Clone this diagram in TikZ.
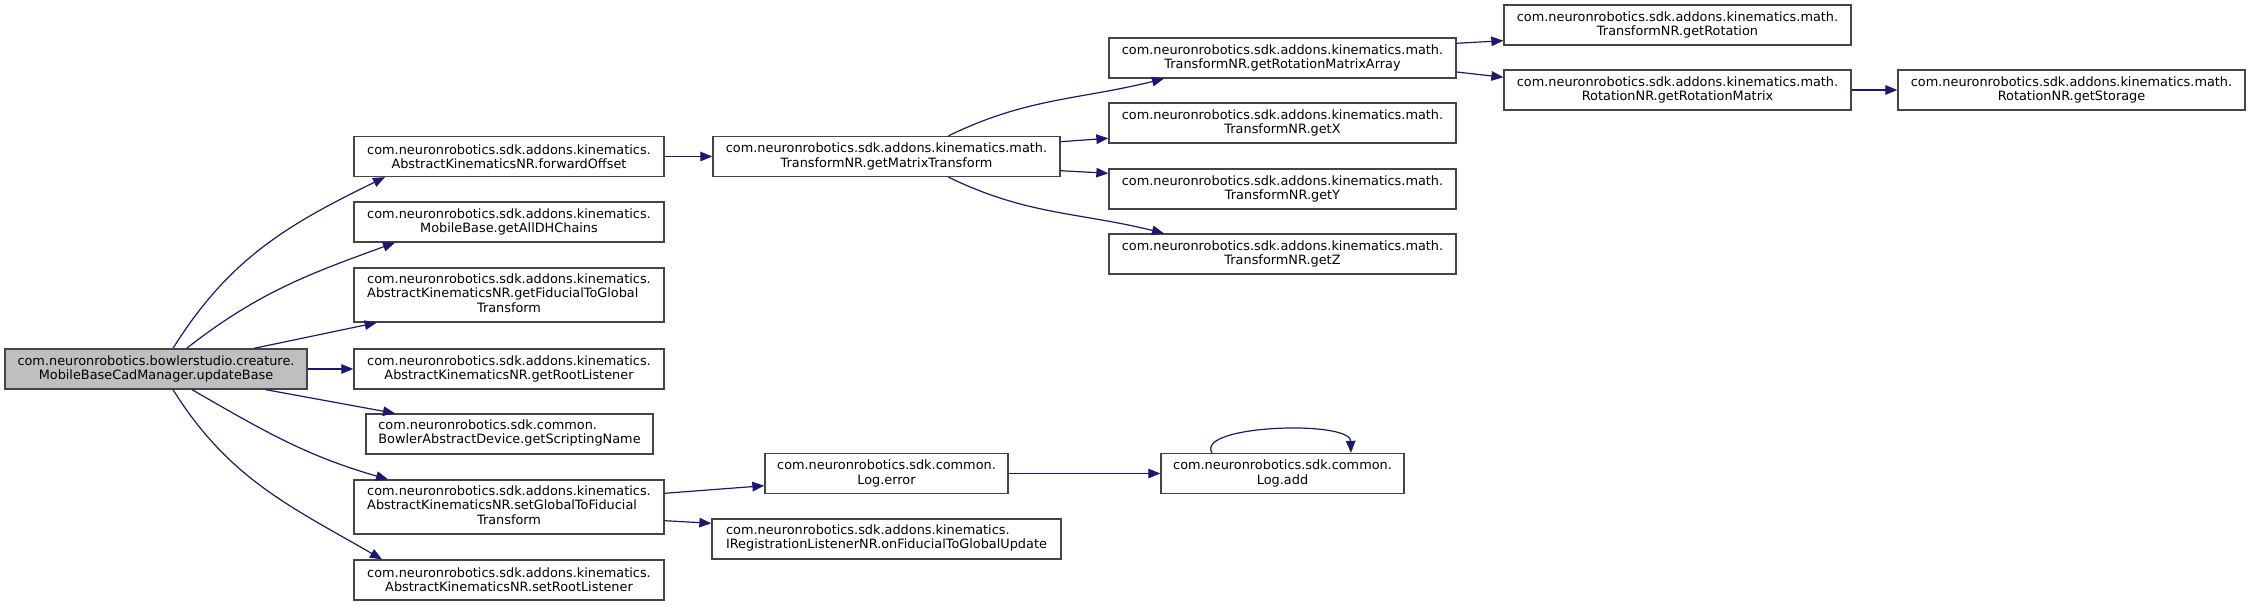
\documentclass[tikz,border=0pt]{standalone}
\usepackage{fontspec}
\setmainfont{DejaVu Sans}
\usetikzlibrary{arrows.meta}
\definecolor{edgeblue}{HTML}{191970}
\definecolor{boxline}{HTML}{444444}
\definecolor{rootfill}{HTML}{BFBFBF}
\tikzset{
  fn/.style={draw=boxline, line width=1.3pt, fill=white, inner sep=0pt, font=\fontsize{12.86}{14.2}\selectfont, align=center},
  rootfn/.style={fn, fill=rootfill},
  edge/.style={draw=edgeblue, line width=1.2pt, -{Triangle[length=12pt,width=9.5pt]}}
}
\begin{document}
\begin{tikzpicture}[x=1pt,y=1pt]
\useasboundingbox (0,0) rectangle (2251,607);
% column 1
\node[rootfn, minimum width=302pt, minimum height=40pt] (root) at (156,238) {com.neuronrobotics.bowlerstudio.creature.\\MobileBaseCadManager.updateBase};
% column 2
\node[fn, minimum width=310pt, minimum height=40pt] (fwd) at (509,450.5) {com.neuronrobotics.sdk.addons.kinematics.\\AbstractKinematicsNR.forwardOffset};
\node[fn, minimum width=310pt, minimum height=40pt] (dh) at (509,385) {com.neuronrobotics.sdk.addons.kinematics.\\MobileBase.getAllDHChains};
\node[fn, minimum width=310pt, minimum height=54pt] (fid) at (509,312) {\begin{tabular}{@{}l@{}}com.neuronrobotics.sdk.addons.kinematics.\\AbstractKinematicsNR.getFiducialToGlobal\\\multicolumn{1}{@{}c@{}}{Transform}\end{tabular}};
\node[fn, minimum width=310pt, minimum height=40pt] (grl) at (509,238) {com.neuronrobotics.sdk.addons.kinematics.\\AbstractKinematicsNR.getRootListener};
\node[fn, minimum width=287pt, minimum height=40pt] (gsn) at (509.5,173) {\begin{tabular}{@{}l@{}}com.neuronrobotics.sdk.common.\\BowlerAbstractDevice.getScriptingName\end{tabular}};
\node[fn, minimum width=310pt, minimum height=54pt] (sgt) at (509,100) {\begin{tabular}{@{}l@{}}com.neuronrobotics.sdk.addons.kinematics.\\AbstractKinematicsNR.setGlobalToFiducial\\\multicolumn{1}{@{}c@{}}{Transform}\end{tabular}};
\node[fn, minimum width=310pt, minimum height=40pt] (srl) at (509,27) {com.neuronrobotics.sdk.addons.kinematics.\\AbstractKinematicsNR.setRootListener};
% column 3
\node[fn, minimum width=347pt, minimum height=40pt] (gmt) at (886.5,450.5) {com.neuronrobotics.sdk.addons.kinematics.math.\\TransformNR.getMatrixTransform};
\node[fn, minimum width=243pt, minimum height=40pt] (err) at (886.5,133.5) {com.neuronrobotics.sdk.common.\\Log.error};
\node[fn, minimum width=349pt, minimum height=40pt] (ofg) at (886.5,68) {\begin{tabular}{@{}l@{}}com.neuronrobotics.sdk.addons.kinematics.\\IRegistrationListenerNR.onFiducialToGlobalUpdate\end{tabular}};
% column 4
\node[fn, minimum width=347pt, minimum height=40pt] (grma) at (1282.5,549) {com.neuronrobotics.sdk.addons.kinematics.math.\\TransformNR.getRotationMatrixArray};
\node[fn, minimum width=347pt, minimum height=40pt] (gx) at (1282.5,484) {com.neuronrobotics.sdk.addons.kinematics.math.\\TransformNR.getX};
\node[fn, minimum width=347pt, minimum height=40pt] (gy) at (1282.5,418) {com.neuronrobotics.sdk.addons.kinematics.math.\\TransformNR.getY};
\node[fn, minimum width=347pt, minimum height=40pt] (gz) at (1282.5,353) {com.neuronrobotics.sdk.addons.kinematics.math.\\TransformNR.getZ};
\node[fn, minimum width=243pt, minimum height=40pt] (add) at (1282.5,133.5) {com.neuronrobotics.sdk.common.\\Log.add};
% column 5
\node[fn, minimum width=347pt, minimum height=40pt] (grot) at (1677.5,582) {com.neuronrobotics.sdk.addons.kinematics.math.\\TransformNR.getRotation};
\node[fn, minimum width=347pt, minimum height=40pt] (grm) at (1677.5,517) {com.neuronrobotics.sdk.addons.kinematics.math.\\RotationNR.getRotationMatrix};
% column 6
\node[fn, minimum width=347pt, minimum height=40pt] (gst) at (2071.5,517) {com.neuronrobotics.sdk.addons.kinematics.math.\\RotationNR.getStorage};
% edges from root
\draw[edge] ([xshift=17pt]root.north) to[out=58,in=206] ([xshift=-124pt]fwd.south);
\draw[edge] ([xshift=30.6pt]root.north) to[out=38,in=200] ([xshift=-114pt]dh.south);
\draw[edge] ([xshift=98pt]root.north) -- ([xshift=-132.3pt]fid.south);
\draw[edge] (root.east) -- (grl.west);
\draw[edge] ([xshift=109.6pt]root.south) -- ([xshift=-114.5pt]gsn.north);
\draw[edge] ([xshift=36pt]root.south) to[out=-30,in=164] ([xshift=-121pt]sgt.north);
\draw[edge] ([xshift=17pt]root.south) to[out=-58,in=150] ([xshift=-127pt]srl.north);
% forwardOffset
\draw[edge] (fwd.east) -- (gmt.west);
% getMatrixTransform
\draw[edge] ([xshift=62pt]gmt.north) to[out=26,in=194] ([xshift=-118.5pt]grma.south);
\draw[edge] ([yshift=14.8pt]gmt.east) -- ([yshift=-15.3pt]gx.west);
\draw[edge] ([yshift=-14.2pt]gmt.east) -- ([yshift=15.7pt]gy.west);
\draw[edge] ([xshift=62pt]gmt.south) to[out=-26,in=166] ([xshift=-118.5pt]gz.north);
% getRotationMatrixArray
\draw[edge] ([yshift=14.7pt]grma.east) -- ([yshift=-15.7pt]grot.west);
\draw[edge] ([yshift=-14pt]grma.east) -- ([yshift=12.7pt]grm.west);
\draw[edge] (grm.east) -- (gst.west);
% setGlobalToFiducial
\draw[edge] ([yshift=13.7pt]sgt.east) -- ([yshift=-12.2pt]err.west);
\draw[edge] ([yshift=-13.7pt]sgt.east) -- ([yshift=15.7pt]ofg.west);
% Log
\draw[edge] (err.east) -- (add.west);
\draw[edge] ([xshift=-70.5pt]add.north) .. controls +(-17,28) and +(-1,33) .. ([xshift=68.5pt]add.north);
\end{tikzpicture}
\end{document}
